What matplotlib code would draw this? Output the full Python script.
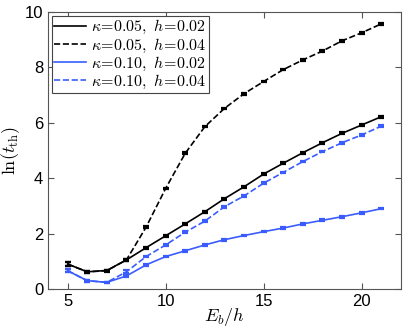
import matplotlib
matplotlib.use('Agg')
import matplotlib.pyplot as plt
from matplotlib.lines import Line2D

plt.rcParams['mathtext.fontset'] = 'cm'
plt.rcParams['font.family'] = ['Liberation Sans', 'DejaVu Sans']

Eb = [5, 6, 7, 8, 9, 10, 11, 12, 13, 14, 15, 16, 17, 18, 19, 20, 21]

k05_h02 = [0.90, 0.62, 0.67, 1.05, 1.49, 1.92, 2.35, 2.79, 3.26, 3.69, 4.15, 4.54, 4.92, 5.28, 5.62, 5.92, 6.22]
k05_h04 = [0.90, 0.62, 0.66, 1.05, 2.23, 3.63, 4.90, 5.86, 6.52, 7.05, 7.49, 7.92, 8.27, 8.59, 8.96, 9.25, 9.57]
k10_h02 = [0.66, 0.30, 0.24, 0.47, 0.87, 1.17, 1.38, 1.59, 1.78, 1.93, 2.07, 2.20, 2.35, 2.48, 2.61, 2.75, 2.90]
k10_h04 = [0.66, 0.30, 0.24, 0.62, 1.17, 1.59, 2.05, 2.45, 2.97, 3.36, 3.82, 4.21, 4.60, 4.96, 5.28, 5.56, 5.88]

err = [0.06, 0.03, 0.03, 0.05, 0.03, 0.03, 0.03, 0.03, 0.03, 0.03, 0.03, 0.03, 0.03, 0.03, 0.03, 0.03, 0.03]

blue = '#3a5cff'

fig = plt.figure(figsize=(4.07, 3.29), dpi=100)
ax = fig.add_axes([0.118, 0.1216, 0.867, 0.842])

series = [
    (k05_h02, 'k', '-', r'$\kappa\!=\!0.05,\ h\!=\!0.02$'),
    (k05_h04, 'k', '--', r'$\kappa\!=\!0.05,\ h\!=\!0.04$'),
    (k10_h02, blue, '-', r'$\kappa\!=\!0.10,\ h\!=\!0.02$'),
    (k10_h04, blue, '--', r'$\kappa\!=\!0.10,\ h\!=\!0.04$'),
]
handles = []
for y, c, ls, lab in series:
    ax.errorbar(Eb, y, yerr=err, color=c, ls=ls, lw=1.2, capsize=2.5,
                elinewidth=1.0, capthick=1.6)
    handles.append(Line2D([], [], color=c, ls=ls, lw=1.2, label=lab))

ax.set_xlim(4, 22)
ax.set_ylim(0, 10)
ax.set_xticks([5, 10, 15, 20])
ax.set_yticks([0, 2, 4, 6, 8, 10])
ax.tick_params(direction='in', top=True, right=True, labelsize=12, length=4, color='#555555')
for s in ax.spines.values():
    s.set_color('#555555')

ax.set_xlabel(r'$E_b/h$', fontsize=13, labelpad=-2)
ax.set_ylabel(r'$\mathrm{ln}(t_{\mathrm{th}})$', fontsize=13, labelpad=2)

leg = ax.legend(handles=handles, loc='upper left', fontsize=11.5, fancybox=False,
                edgecolor='#444444', handlelength=2.0, handletextpad=0.3,
                labelspacing=0.0, borderpad=0.15, borderaxespad=0.25, framealpha=1)
leg.get_frame().set_linewidth(0.8)

fig.savefig('out.png', dpi=100)
